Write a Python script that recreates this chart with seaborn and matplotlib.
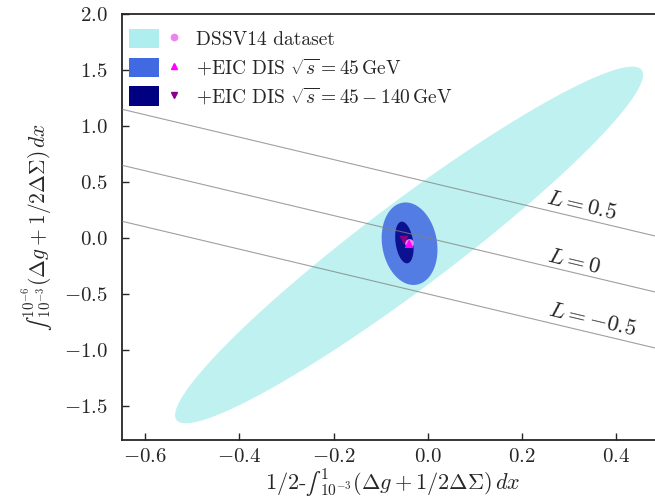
import numpy as np
import pandas as pd
import matplotlib
matplotlib.use("Agg")
import matplotlib.pyplot as plt
import seaborn as sns
from matplotlib.patches import Patch
from matplotlib.lines import Line2D
from matplotlib.legend_handler import HandlerTuple

# ---------------- data ----------------
ell_labels = ["DSSV14 dataset",
              r"+EIC DIS $\sqrt{s}=45\,\mathrm{GeV}$",
              r"+EIC DIS $\sqrt{s}=45-140\,\mathrm{GeV}$"]
ell_colors = ["paleturquoise", "royalblue", "navy"]
ell_alpha = [0.8, 0.85, 0.85]
ell_cx = [-0.040, -0.039, -0.050]
ell_cy = [-0.062, -0.051, -0.040]
# conjugate semi-axis vectors (data units)
ell_ax = [0.4936, -0.0149, -0.0064]
ell_ay = [1.5625, 0.366, 0.186]
ell_bx = [0.0547, 0.0573, 0.0185]
ell_by = [-0.307, 0.041, 0.0107]

mk_x = [-0.039, -0.040, -0.051]
mk_y = [-0.049, -0.050, -0.020]
mk_shape = ["o", "^", "v"]
mk_color = ["violet", "magenta", "darkmagenta"]

L_values = [0.5, 0.0, -0.5]
L_text = [r"$L=0.5$", r"$L=0$", r"$L=-0.5$"]
L_text_x = [0.327, 0.310, 0.348]
L_text_y = [0.286, -0.210, -0.732]

xticks = [-0.6, -0.4, -0.2, 0.0, 0.2, 0.4]
yticks = [-1.5, -1.0, -0.5, 0.0, 0.5, 1.0, 1.5, 2.0]
xlim = (-0.65, 0.5)
ylim = (-1.8, 2.0)

# ---------------- style ----------------
sns.set_style("ticks")
plt.rcParams["font.family"] = "serif"
plt.rcParams["font.serif"] = ["cmr10", "DejaVu Serif"]
plt.rcParams["mathtext.fontset"] = "cm"
plt.rcParams["axes.formatter.use_mathtext"] = True
plt.rcParams["axes.unicode_minus"] = True

fig = plt.figure(figsize=(6.55, 4.98), dpi=100)
ax = fig.add_axes([0.1858, 0.1173, 0.8272, 0.8546])

t = np.linspace(0, 2 * np.pi, 400)
for i in range(3):
    ex = ell_cx[i] + ell_ax[i] * np.cos(t) + ell_bx[i] * np.sin(t)
    ey = ell_cy[i] + ell_ay[i] * np.cos(t) + ell_by[i] * np.sin(t)
    ax.fill(ex, ey, color=ell_colors[i], alpha=ell_alpha[i], lw=0, zorder=1 + i)

# L lines
xs = np.array(xlim)
for L, txt, tx, ty in zip(L_values, L_text, L_text_x, L_text_y):
    df = pd.DataFrame({"x": xs, "y": L - xs})
    sns.lineplot(data=df, x="x", y="y", ax=ax, color="gray", lw=0.8, alpha=0.75, zorder=5)
    ax.text(tx, ty, txt, rotation=-13.4, ha="center", va="center", fontsize=16.5,
            rotation_mode="anchor", zorder=6)

for i in range(3):
    sns.scatterplot(x=[mk_x[i]], y=[mk_y[i]], ax=ax, marker=mk_shape[i],
                    color=mk_color[i], s=40, edgecolor="none", zorder=7 + i)

ax.set_xlim(*xlim)
ax.set_ylim(*ylim)
ax.set_xticks(xticks)
ax.set_yticks(yticks)
ax.tick_params(direction="in", length=5, width=1.0, labelsize=15)
ax.tick_params(axis="y", pad=10)
ax.tick_params(axis="x", pad=6)
for s in ax.spines.values():
    s.set_linewidth(1.3)

ax.set_xlabel("$1/2$-$\u222b\\,{}_{10^{-3}}^{1}(\\Delta g+1/2\\Delta\\Sigma)\\,dx$",
              fontsize=16, labelpad=0)
ax.set_ylabel("$\u222b\\,{}_{10^{-3}}^{10^{-6}}(\\Delta g+1/2\\Delta\\Sigma)\\,dx$",
              fontsize=15.5, labelpad=6)

handles = []
for i in range(3):
    p = Patch(facecolor=ell_colors[i], edgecolor="none")
    m = Line2D([], [], marker=mk_shape[i], color=mk_color[i], ls="none", markersize=4.5)
    handles.append((p, m))
ax.legend(handles, ell_labels, handler_map={tuple: HandlerTuple(ndivide=None, pad=0)},
          loc="upper left", bbox_to_anchor=(0.013, 0.965), frameon=False,
          fontsize=14, handlelength=3.1, handleheight=1.15, handletextpad=0.36,
          labelspacing=0.4, borderpad=0, borderaxespad=0)

fig.savefig("out.png", dpi=100, facecolor="white")
